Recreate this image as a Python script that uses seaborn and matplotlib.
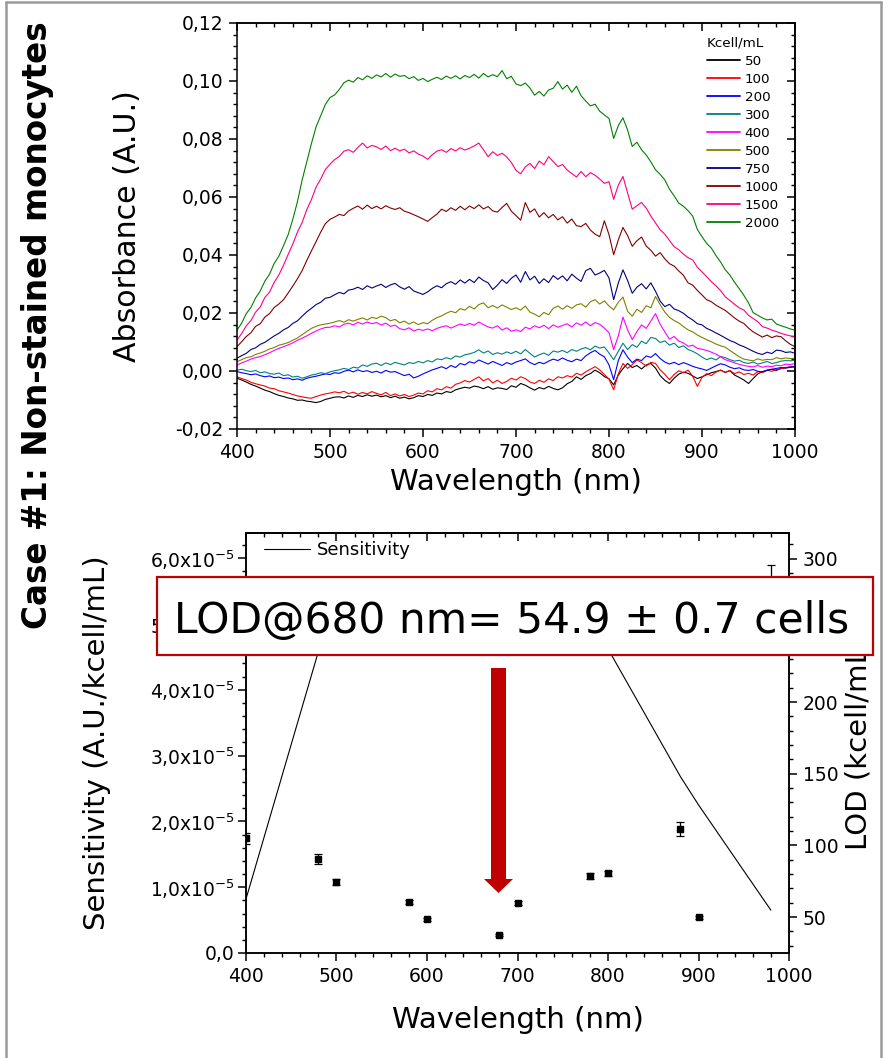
import numpy as np
import pandas as pd
import matplotlib
matplotlib.use("Agg")
import matplotlib.pyplot as plt
import seaborn as sns
from matplotlib.lines import Line2D
from matplotlib.patches import Rectangle, FancyArrow
from matplotlib.ticker import MultipleLocator, FixedLocator, FixedFormatter, FuncFormatter

# ---------------- data: absorbance spectra (x 1e-3 A.U.), 400..1000 nm every 5 nm
wavelength = np.arange(400, 1001, 5)
concentrations = ["50", "100", "200", "300", "400", "500", "750", "1000", "1500", "2000"]
colors = ["#000000", "#ff0000", "#0000ff", "#008080", "#ff00ff",
          "#808000", "#000080", "#800000", "#ff0080", "#008000"]

abs_50 = [-2.5, -3.1, -3.8, -4.6, -5.2, -5.9, -6.6, -7.1, -7.8, -8.4,
          -8.8, -9.3, -9.6, -10.1, -10.0, -10.4, -10.6, -10.9, -10.5, -9.8,
          -9.4, -9.0, -8.9, -9.3, -8.6, -9.1, -8.4, -8.8, -8.2, -8.7,
          -8.3, -8.9, -8.5, -9.2, -8.7, -9.4, -9.0, -9.6, -9.2, -8.5,
          -8.8, -8.1, -8.4, -7.6, -7.9, -7.1, -7.4, -6.5, -6.0, -5.6,
          -5.9, -5.2, -5.5, -6.1, -5.4, -6.3, -5.8, -6.0, -6.4, -5.1,
          -5.6, -4.3, -4.9, -5.8, -6.6, -5.7, -6.2, -5.3, -6.0, -6.5,
          -5.8, -4.4, -3.6, -2.0, -2.9, -1.6, -0.9, 0.3, -0.6, -1.9,
          -2.7, -4.8, -1.4, 0.8, 2.6, 1.2, 1.9, 0.7, 2.1, 2.6,
          1.0, -1.6, -3.2, -4.3, -2.5, -1.1, -0.4, -0.8, -1.7, -2.6,
          -2.0, -1.3, -0.6, -0.2, 0.3, -0.5, 0.1, -1.4, -2.2, -3.1,
          -4.3, -2.6, -1.0, -0.2, 0.3, 0.6, 0.2, 0.9, 1.2, 1.4,
          1.5]
abs_100 = [-2.0, -2.6, -3.1, -3.9, -4.4, -4.8, -5.2, -5.9, -6.1, -6.8,
           -7.2, -7.6, -8.1, -8.6, -8.9, -9.2, -9.4, -8.8, -8.3, -7.9,
           -7.6, -7.2, -7.5, -7.0, -7.8, -7.3, -8.0, -7.4, -7.9, -7.1,
           -7.7, -8.2, -7.4, -8.5, -7.9, -8.6, -8.1, -8.8, -8.3, -7.6,
           -7.9, -6.8, -7.2, -6.1, -6.5, -5.4, -5.9, -4.6, -4.1, -3.3,
           -3.8, -2.9, -2.0, -3.4, -2.6, -4.1, -3.2, -4.3, -3.6, -2.5,
           -3.1, -2.0, -2.6, -3.8, -4.3, -3.2, -3.9, -2.7, -3.3, -2.0,
           -2.4, -1.6, -2.1, -0.8, -1.4, -0.3, 0.6, 1.5, 0.4, -1.2,
           -2.8, -6.5, -1.0, 2.6, 0.9, 2.2, 3.8, 2.9, 1.7, 3.0,
           2.6, 0.4, -1.1, -3.0, -1.2, 0.1, -0.6, 0.3, -1.8, -5.3,
           -2.2, -0.9, -1.6, -0.4, 0.3, -0.5, 0.2, -0.9, -0.3, -1.2,
           -0.8, -1.4, -0.2, -0.6, 0.3, -0.1, 0.5, 0.8, 1.1, 1.3,
           1.5]
abs_200 = [-0.2, -0.6, -0.9, -1.3, -1.0, -1.6, -2.0, -1.7, -2.3, -2.1,
           -2.6, -2.4, -3.0, -2.7, -3.2, -2.5, -2.1, -1.8, -1.4, -1.0,
           -1.2, -0.6, -0.8, -0.1, 0.3, -0.3, 0.4, -0.2, 0.1, -0.5,
           -0.1, -0.7, 0.2, -0.4, -0.2, -0.9, -1.6, -1.1, -2.4, -1.8,
           -1.0, -0.3, 0.4, 0.9, 1.5, 0.8, 1.9, 1.2, 2.6, 2.1,
           3.2, 2.7, 3.8, 3.1, 2.4, 3.3, 2.6, 1.9, 2.9, 2.3,
           3.1, 3.6, 4.2, 2.9, 2.2, 3.0, 2.5, 3.4, 4.1, 3.6,
           4.5, 3.7, 3.2, 4.1, 3.6, 5.2, 6.3, 7.1, 5.8, 4.9,
           2.1, -3.0, 3.6, 7.3, 4.8, 2.9, 4.1, 3.6, 5.2, 4.7,
           6.0, 4.3, 3.1, 2.4, 3.0, 2.2, 2.9, 2.3, 1.6, 1.1,
           0.7, 0.2, 1.0, 1.8, 2.5, 2.1, 1.3, 0.8, 1.1, 0.4,
           0.2, 0.5, -0.1, -0.3, 0.2, 0.6, 0.9, 1.2, 1.0, 1.3,
           1.5]
abs_300 = [0.3, 0.6, 0.1, -0.2, 0.2, -0.6, -0.3, -0.9, -1.1, -0.7,
           -1.6, -1.3, -2.1, -1.8, -2.5, -2.0, -1.4, -1.1, -0.6, -0.9,
           -0.3, 0.1, 0.4, 0.9, 0.5, 1.3, 1.0, 2.1, 1.6, 2.4,
           2.7, 1.9, 2.8, 2.2, 3.0, 2.5, 2.1, 2.9, 2.6, 3.3,
           2.8, 3.6, 3.1, 4.2, 3.9, 4.6, 4.1, 5.2, 4.8, 5.6,
           5.9, 6.4, 7.3, 6.2, 6.9, 5.7, 6.3, 5.8, 6.6, 6.0,
           6.8, 5.9, 7.4, 6.1, 4.8, 5.6, 6.2, 5.4, 6.9, 6.5,
           7.1, 6.3, 7.4, 6.8, 7.6, 8.1, 7.3, 8.6, 7.9, 8.3,
           6.2, 3.9, 6.8, 9.6, 7.4, 9.1, 8.2, 10.3, 9.4, 11.6,
           11.2, 9.8, 10.4, 8.9, 9.6, 8.1, 8.7, 7.4, 6.8, 5.9,
           4.8, 3.9, 4.5, 3.8, 5.0, 4.6, 3.9, 3.4, 3.7, 2.9,
           2.6, 3.1, 2.4, 2.8, 3.3, 2.6, 2.9, 3.4, 3.6, 3.5,
           3.8]
abs_400 = [2.1, 2.8, 3.4, 4.1, 4.6, 5.0, 5.6, 6.3, 7.1, 7.8,
           8.4, 9.0, 9.7, 10.6, 11.3, 12.1, 13.0, 13.8, 14.5, 15.0,
           15.1, 15.6, 15.2, 16.1, 16.5, 15.9, 16.8, 16.2, 16.9, 16.3,
           16.7, 15.9, 16.5, 15.4, 15.8, 14.6, 14.2, 14.9, 13.8, 14.4,
           14.0, 14.5, 13.9, 14.7, 15.2, 15.6, 14.8, 15.5, 16.2, 15.7,
           16.4, 15.8, 16.9, 16.0, 15.2, 14.8, 15.6, 14.1, 14.9, 13.7,
           14.2, 13.6, 15.1, 14.5, 15.6, 14.9, 15.8, 14.6, 15.9, 15.1,
           15.7, 16.3, 15.2, 16.6, 15.8, 16.9, 15.6, 16.7, 16.1, 14.8,
           13.2, 7.4, 12.1, 18.6, 14.2, 10.8, 13.6, 15.9, 14.7, 17.2,
           19.8, 16.1, 13.5, 11.0, 11.9, 10.3, 9.7, 8.5, 8.9, 7.8,
           7.5, 7.1, 6.5, 5.8, 4.9, 3.9, 3.4, 2.8, 2.3, 1.9,
           1.6, 1.4, 1.9, 1.3, 1.7, 1.5, 2.0, 1.8, 2.4, 2.2,
           2.6]
abs_500 = [3.2, 3.9, 4.6, 4.9, 5.7, 6.2, 6.8, 7.6, 8.1, 8.9,
           9.3, 9.8, 10.6, 11.4, 12.5, 13.6, 14.7, 15.4, 15.9, 16.2,
           16.5, 16.9, 17.4, 16.8, 17.7, 17.2, 17.8, 18.3, 17.6, 18.5,
           18.1, 18.9, 18.4, 17.3, 17.8, 16.6, 17.2, 16.2, 16.9, 16.0,
           16.7, 16.3, 17.5, 18.4, 19.0, 19.9, 20.6, 20.1, 21.5, 21.0,
           22.3, 21.4, 22.9, 23.5, 21.8, 22.6, 21.7, 22.8, 22.0, 21.2,
           21.8, 21.0, 22.4, 20.3, 19.6, 18.7, 20.2, 19.4, 21.6, 22.4,
           21.3, 22.5, 21.6, 22.8, 23.2, 22.0, 23.9, 24.6, 23.1, 24.2,
           22.4, 21.1, 23.7, 25.5, 20.6, 18.9, 21.3, 20.2, 22.5, 21.8,
           25.7, 22.9, 20.3, 18.5, 17.4, 16.6, 15.3, 14.2, 13.5, 12.4,
           11.6, 10.8, 10.1, 9.3, 8.7, 8.2, 7.1, 6.0, 4.9, 4.1,
           3.8, 3.5, 4.2, 3.7, 4.0, 3.9, 4.6, 4.2, 4.5, 4.3,
           4.4]
abs_750 = [4.4, 5.3, 6.1, 7.4, 8.0, 9.2, 9.9, 11.0, 12.1, 13.0,
           14.2, 15.0, 16.4, 17.3, 18.9, 20.4, 21.6, 22.9, 23.7, 25.1,
           25.4, 26.3, 27.1, 26.6, 27.9, 28.2, 28.9, 28.1, 29.4, 28.6,
           29.3, 29.9, 28.8, 29.7, 30.2, 29.0, 28.2, 29.1, 27.6, 27.0,
           26.4, 27.3, 28.5, 29.4, 28.7, 30.1, 30.8, 29.9, 31.4, 30.3,
           31.6, 30.5, 32.4, 31.2, 30.4, 28.1, 29.6, 31.5, 30.2, 32.0,
           33.1, 30.6, 34.3, 31.4, 32.7, 30.2, 31.8, 30.5, 32.9, 31.6,
           32.8, 31.1, 33.4, 32.0, 30.9, 34.6, 35.4, 33.1, 33.8, 34.7,
           32.1, 24.6, 30.3, 34.9, 31.2, 26.8, 28.9, 30.1, 28.3, 30.4,
           27.5, 24.1, 22.2, 23.0, 21.4, 20.8, 19.9, 18.6, 17.6, 16.3,
           15.9, 14.7, 14.0, 13.1, 12.3, 11.4, 10.5, 9.9, 9.0, 8.4,
           7.6, 6.8, 6.1, 5.7, 6.5, 6.0, 7.2, 7.0, 6.4, 6.6,
           6.1]
abs_1000 = [8.4, 10.1, 11.9, 13.2, 15.4, 16.3, 18.6, 19.8, 21.9, 23.1,
            24.6, 26.9, 29.3, 31.8, 34.6, 38.1, 41.4, 44.6, 47.9, 50.8,
            52.3, 53.1, 54.0, 53.6, 55.2, 56.1, 56.9, 55.8, 57.2, 56.0,
            56.8, 55.9, 57.0, 56.2, 55.7, 56.3, 55.1, 54.6, 53.9, 53.2,
            52.4, 51.6, 52.9, 54.1, 55.8, 55.0, 56.3, 55.4, 56.8, 55.6,
            56.9, 56.0, 57.3, 55.9, 56.7, 55.2, 54.8, 56.4, 57.8, 55.1,
            53.6, 52.0, 58.1, 54.7, 55.9, 53.1, 54.6, 52.8, 54.0, 52.1,
            53.2, 51.0, 52.4, 50.1, 49.8, 50.9, 48.6, 47.2, 46.3, 51.8,
            47.0, 40.1, 45.2, 49.5, 46.7, 43.0, 44.9, 46.2, 43.1, 41.6,
            39.6, 40.8, 38.7, 37.0, 36.2, 34.5, 33.0, 30.4, 29.6, 27.8,
            26.2, 24.6, 23.9, 22.7, 21.8, 20.9, 19.6, 18.3, 17.2, 16.4,
            14.8, 13.5, 12.6, 11.7, 12.4, 11.5, 12.1, 11.8, 10.4, 9.2,
            8.4]
abs_1500 = [10.7, 12.9, 15.6, 17.4, 20.3, 22.1, 25.4, 27.2, 30.6, 33.1,
            36.5, 40.2, 43.8, 47.9, 51.2, 55.6, 59.1, 63.4, 66.2, 69.5,
            71.3, 72.9, 74.0, 75.8, 76.3, 75.4, 77.1, 78.6, 76.9, 77.8,
            77.3, 76.4, 77.6, 76.0, 76.8, 75.9, 76.5, 75.2, 75.9, 74.8,
            74.1, 73.0, 74.6, 75.8, 76.3, 75.4, 76.7, 75.9, 77.0, 76.2,
            76.8, 77.6, 78.6, 76.3, 73.9, 75.6, 74.3, 75.1, 73.8, 71.9,
            69.2, 68.0, 70.4, 71.6, 69.8, 72.4, 71.1, 73.9, 72.2, 70.5,
            71.2, 69.3, 68.1, 66.9, 68.8, 67.0, 68.4, 67.5, 66.2, 64.7,
            65.3, 59.2, 64.1, 67.1, 61.4, 55.8, 57.0, 58.1, 56.2, 53.4,
            51.1, 48.7, 47.2, 45.0, 42.9, 41.8, 40.3, 39.1, 38.3, 35.8,
            34.2, 32.5, 30.8, 29.4, 27.7, 25.6, 24.3, 23.0, 21.8, 21.0,
            19.2, 18.1, 17.0, 15.3, 14.8, 14.1, 13.6, 13.0, 12.5, 12.1,
            11.8]
abs_2000 = [14.1, 16.5, 19.8, 21.9, 25.2, 27.6, 31.0, 33.4, 37.1, 39.6,
            43.2, 47.0, 52.3, 58.4, 65.8, 72.1, 78.4, 84.2, 88.0, 91.9,
            94.3, 95.2, 97.1, 99.4, 100.3, 99.6, 101.2, 100.4, 101.8, 100.9,
            102.1, 101.4, 102.6, 101.3, 102.4, 101.6, 101.9, 100.8, 101.5, 100.2,
            100.9, 99.8, 100.6, 101.3, 100.5, 101.7, 100.9, 101.8, 100.7, 101.9,
            101.2, 102.3, 101.0, 102.6, 101.4, 102.2, 101.5, 103.6, 100.8, 101.6,
            99.0, 98.4, 99.3, 97.6, 95.1, 96.4, 94.8, 96.9, 97.5, 99.8,
            97.2, 98.6, 96.1, 98.2, 94.9, 93.1, 91.4, 92.0, 89.6, 88.3,
            87.1, 80.2, 84.6, 87.3, 83.1, 77.4, 78.9, 76.3, 74.5, 72.1,
            69.4, 67.8, 65.9, 62.7, 60.4, 57.9, 56.8, 55.3, 53.4, 48.8,
            46.3, 44.0, 42.4, 39.8, 37.6, 34.9, 33.1, 30.6, 28.4, 26.1,
            23.5, 20.1, 19.2, 18.3, 17.6, 17.9, 16.2, 15.6, 15.1, 14.5,
            14.1]
spectra = [abs_50, abs_100, abs_200, abs_300, abs_400,
           abs_500, abs_750, abs_1000, abs_1500, abs_2000]

# ---------------- data: sensitivity / LOD
sel_wavelength = [400, 480, 500, 580, 600, 680, 700, 780, 800, 880, 900, 980]
sensitivity = [0.82e-5, 4.58e-5, 5.2e-5, 5.5e-5, 5.6e-5, 5.65e-5,
               5.6e-5, 5.3e-5, 4.62e-5, 2.68e-5, 2.25e-5, 0.65e-5]
lod = [105.0, 90.3, 74.7, 60.3, 48.4, 37.9, 59.8, 78.6, 80.5, 111.2, 49.8, 283.0]
lod_err = [4.0, 3.5, 2.0, 1.4, 1.0, 0.7, 1.4, 2.0, 2.0, 4.9, 1.0, 13.0]
sens_ticks = [0, 1e-5, 2e-5, 3e-5, 4e-5, 5e-5, 6e-5]
sens_ticklabels = ["0,0", "1,0x10$^{-5}$", "2,0x10$^{-5}$", "3,0x10$^{-5}$",
                   "4,0x10$^{-5}$", "5,0x10$^{-5}$", "6,0x10$^{-5}$"]

# ---------------- style
sns.set_style("ticks")
plt.rcParams["font.family"] = ["DejaVu Sans"]
plt.rcParams["mathtext.default"] = "regular"
plt.rcParams["axes.linewidth"] = 1.1
for k in ("text.color", "axes.labelcolor", "axes.edgecolor",
          "xtick.color", "ytick.color", "xtick.labelcolor", "ytick.labelcolor"):
    plt.rcParams[k] = "black"

W, H = 894, 1058
fig = plt.figure(figsize=(W / 100, H / 100), dpi=100)

def axes_rect(l, t, r, b):
    return [l / W, 1 - b / H, (r - l) / W, (b - t) / H]

TICK_FS = 13.5
LABEL_FS = 21

def style_ticks(ax):
    ax.tick_params(which="major", direction="out", length=6, width=1.1,
                   labelsize=TICK_FS, pad=4, colors="black")
    ax.tick_params(which="minor", direction="out", length=3.2, width=1.0,
                   colors="black")

def mirror_ticks(sec, axis, major, minor):
    target = sec.xaxis if axis == "x" else sec.yaxis
    target.set_major_locator(MultipleLocator(major))
    target.set_minor_locator(MultipleLocator(minor))
    kw = {"labeltop": False} if axis == "x" else {"labelright": False}
    sec.tick_params(which="major", direction="in", length=6, width=1.1, colors="black", **kw)
    sec.tick_params(which="minor", direction="in", length=3.2, width=1.0, colors="black")
    for s in sec.spines.values():
        s.set_linewidth(1.1)
        s.set_color("black")

# ---------------- top panel: spectra
ax1 = fig.add_axes(axes_rect(237, 23, 795, 429))
rows = []
for conc, vals in zip(concentrations, spectra):
    for w, v in zip(wavelength, vals):
        rows.append((w, v / 1000.0, conc))
df = pd.DataFrame(rows, columns=["Wavelength", "Absorbance", "Kcell/mL"])
sns.lineplot(data=df, x="Wavelength", y="Absorbance", hue="Kcell/mL",
             hue_order=concentrations, palette=dict(zip(concentrations, colors)),
             estimator=None, sort=False, legend=False, lw=0.8, ax=ax1)
ax1.set_xlim(400, 1000)
ax1.set_ylim(-0.02, 0.12)
ax1.xaxis.set_major_locator(MultipleLocator(100))
ax1.xaxis.set_minor_locator(MultipleLocator(20))
ax1.yaxis.set_major_locator(MultipleLocator(0.02))
ax1.yaxis.set_minor_locator(MultipleLocator(0.004))
ax1.yaxis.set_major_formatter(FuncFormatter(
    lambda v, p: ("%.2f" % (round(v, 3) + 0.0)).replace(".", ",").replace("-0,00", "0,00")))
style_ticks(ax1)
for s in ax1.spines.values():
    s.set_linewidth(1.1)
ax1.set_xlabel("Wavelength (nm)", fontsize=LABEL_FS)
ax1.set_ylabel("Absorbance (A.U.)", fontsize=LABEL_FS + 0.6)
ax1.xaxis.label.set_va("center")
ax1.yaxis.label.set_va("center")
ax1.xaxis.set_label_coords(0.5, (429 - 482) / 406)
ax1.yaxis.set_label_coords((127 - 237) / 558, 0.5)
mirror_ticks(ax1.secondary_xaxis("top"), "x", 100, 20)
mirror_ticks(ax1.secondary_yaxis("right"), "y", 0.02, 0.004)

handles = [Line2D([], [], color=c, lw=1.3) for c in colors]
leg = ax1.legend(handles, concentrations, title="Kcell/mL", loc="upper left",
                 bbox_to_anchor=((707 - 237) / 558, (429 - 37) / 406),
                 frameon=False, fontsize=9.7, title_fontsize=9.7,
                 handlelength=2.45, handletextpad=0.35, labelspacing=0.37,
                 borderpad=0, borderaxespad=0)
leg._legend_box.align = "left"

# ---------------- bottom panel: sensitivity and LOD
ax2 = fig.add_axes(axes_rect(246, 533, 789, 953))
sens_df = pd.DataFrame({"Wavelength": sel_wavelength, "Sensitivity": sensitivity})
sns.lineplot(data=sens_df, x="Wavelength", y="Sensitivity", color="black",
             lw=0.8, ax=ax2, label="Sensitivity")
ax2.set_xlim(400, 1000)
ax2.set_ylim(0, 6.38e-5)
ax2.xaxis.set_major_locator(MultipleLocator(100))
ax2.xaxis.set_minor_locator(MultipleLocator(20))
ax2.yaxis.set_major_locator(FixedLocator(sens_ticks))
ax2.yaxis.set_major_formatter(FixedFormatter(sens_ticklabels))
ax2.yaxis.set_minor_locator(MultipleLocator(0.2e-5))
style_ticks(ax2)
ax2.tick_params(axis="y", which="major", pad=2)
ax2.set_xlabel("Wavelength (nm)", fontsize=LABEL_FS)
ax2.set_ylabel("Sensitivity (A.U./kcell/mL)", fontsize=LABEL_FS)
ax2.xaxis.label.set_va("center")
ax2.yaxis.label.set_va("center")
ax2.xaxis.set_label_coords(0.5, (953 - 1020) / 420)
ax2.yaxis.set_label_coords((97 - 246) / 543, 0.5)
mirror_ticks(ax2.secondary_xaxis("top"), "x", 100, 20)
ax2.legend(loc="upper left", bbox_to_anchor=((264 - 246) / 543, (953 - 541) / 420),
           frameon=False, fontsize=13, handlelength=2.55, handletextpad=0.4,
           borderpad=0, borderaxespad=0)

ax2r = ax2.twinx()
ax2r.errorbar(sel_wavelength, lod, yerr=lod_err, fmt="s", color="black",
              ms=4.2, capsize=3, elinewidth=0.9, capthick=0.9)
ax2r.set_ylim(25, 318)
ax2r.yaxis.set_major_locator(MultipleLocator(50))
ax2r.yaxis.set_minor_locator(MultipleLocator(10))
style_ticks(ax2r)
ax2r.set_ylabel("LOD (kcell/mL)", fontsize=LABEL_FS)
ax2r.yaxis.label.set_va("center")
ax2r.yaxis.set_label_coords((858 - 246) / 543, 0.5)
for a in (ax2, ax2r):
    for s in a.spines.values():
        s.set_linewidth(1.1)
        s.set_color("black")

# ---------------- annotations
fig.text(38 / W, 1 - 325 / H, "Case #1: Non-stained monocytes", rotation=90,
         fontsize=23.5, fontweight="bold", ha="center", va="center")

fig.add_artist(Rectangle((157 / W, 1 - 655 / H), (873 - 157) / W, (655 - 577) / H,
                         transform=fig.transFigure, facecolor="white",
                         edgecolor="#c00000", lw=1.6, zorder=5))
fig.text(512 / W, 1 - 633 / H, "LOD@680 nm= 54.9 \u00b1 0.7 cells",
         fontsize=30.5, ha="center", va="baseline", zorder=6)

fig.add_artist(FancyArrow(498.5 / 100, (H - 668) / 100, 0, -(893 - 668) / 100,
                          width=0.15, head_width=0.29, head_length=0.14,
                          length_includes_head=True, color="#c00000", lw=0,
                          transform=fig.dpi_scale_trans, zorder=5))

# grey outer frame
frame_c = "#9a9a9a"
fig.add_artist(Line2D([6 / W, 6 / W], [0, 1 - 2 / H], color=frame_c, lw=1.8,
                      transform=fig.transFigure))
fig.add_artist(Line2D([6 / W, 881 / W], [1 - 2 / H, 1 - 2 / H], color=frame_c, lw=1.8,
                      transform=fig.transFigure))
fig.add_artist(Line2D([881 / W, 881 / W], [0, 1 - 2 / H], color=frame_c, lw=1.8,
                      transform=fig.transFigure))

fig.savefig("out.png", dpi=100, facecolor="white")
